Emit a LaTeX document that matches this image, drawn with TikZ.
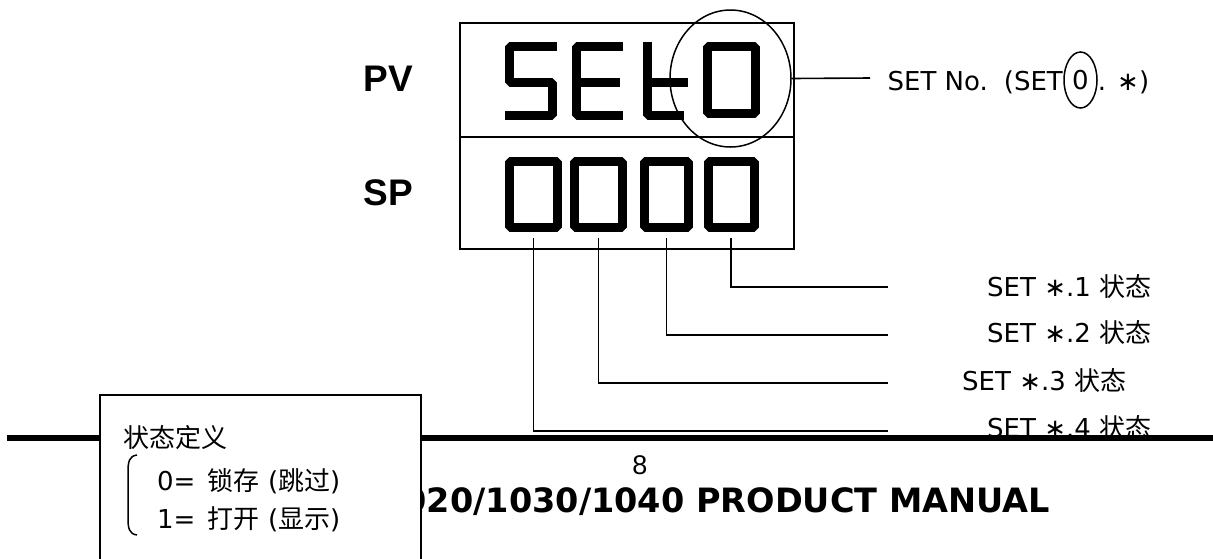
\documentclass[tikz,border=0pt]{standalone}
\usepackage{fontspec}
\setmainfont{DejaVu Sans}
\newfontfamily\cjk{Noto Sans CJK SC}
\newfontfamily\arialf{Liberation Sans}
\usetikzlibrary{shapes.geometric,positioning}
\tikzset{
  seg/.style={line width=9pt,line join=bevel},
  zero/.style={draw,line width=9pt,line join=bevel,inner sep=0,minimum height=66pt},
  lab/.style={inner sep=0,font=\fontsize{26}{30}\selectfont},
  big/.style={inner sep=0,font=\arialf\bfseries\fontsize{37}{40}\selectfont},
  wire/.style={line width=1.6pt},
}
\begin{document}
\begin{tikzpicture}[x=1pt,y=-1pt]
  \useasboundingbox (0,0) rectangle (1213,558);
  \draw[line width=2.2pt] (460,23) rectangle (794,249);
  \draw[line width=2.2pt] (460,137) -- (794,137);
  \node[big,anchor=east] (pv) at (413,79) {PV};
  \node[big,anchor=east] (sp) at (413,193) {SP};
  \draw[seg] (557,46.5) -- (509.5,46.5) -- (509.5,82.5) -- (552.5,82.5) -- (552.5,115.5) -- (505,115.5);
  \draw[seg] (623,46.5) -- (576.5,46.5) -- (576.5,115.5) -- (623,115.5);
  \draw[seg] (576.5,82.5) -- (620,82.5);
  \draw[seg] (647.5,42) -- (647.5,115.5) -- (684,115.5);
  \draw[seg] (647.5,82.5) -- (688,82.5);
  \node[zero,minimum width=48pt,minimum height=67pt] (pv0) at (731.5,80) {};
  \foreach \n/\cx/\w in {1/533.5/48, 2/598.5/48, 3/666.5/44, 4/731/46}
    \node[zero,minimum width={\w pt}] (z\n) at (\cx,194.5) {};
  \node[draw,ellipse,line width=1.5pt,inner sep=0,minimum width=121pt,minimum height=137pt] (setc) at (730.5,78.5) {};
  \coordinate (setend) at (870,78);
  \draw[wire] (setc.east) -- (setend);
  \node[lab,anchor=base east] (setno) at (1063,90) {SET No.\hspace{5pt} (SET};
  \node[lab,draw,ellipse,line width=1.5pt,minimum width=33pt,minimum height=56pt] (set0) at (1080.5,80) {0};
  \node[lab,anchor=base west] (setrest) at (set0.east |- setno.base) {. ∗)};
  \foreach \k/\yy/\xx in {1/296/987, 2/342/987, 3/390/962, 4/437/987}
    \node[lab,anchor=base west] (l\k) at (\xx,\yy) {SET ∗.\k\ {\cjk 状态}};
  \foreach \z/\k/\yy in {4/1/287, 3/2/335, 2/3/383, 1/4/431} {
    \coordinate (e\k) at (888,\yy);
    \draw[wire,shorten <=6pt] (z\z.south) |- (e\k);
  }
  \node[inner sep=0,font=\arialf\fontsize{27}{30}\selectfont] (pg) at (640,465) {8};
  \node[inner sep=0,anchor=base east,font=\bfseries\fontsize{33.5}{37}\selectfont] (title) at (1050,512) {020/1030/1040 PRODUCT MANUAL};
  \draw[line width=6pt] (7,438) -- (1213,438);
  \draw[line width=2.5pt,fill=white] (100,395) rectangle (421,580);
  \node[lab,anchor=base west] (legt) at (123,447) {\cjk 状态定义};
  \node[lab,anchor=base west] (leg0) at (157,490) {0=\hspace{4pt} {\cjk 锁存} ({\cjk 跳过})};
  \node[lab,anchor=base west] (leg1) at (157,528) {1=\hspace{4pt} {\cjk 打开} ({\cjk 显示})};
  \draw[line width=1.5pt] (137,455) .. controls (129,456) and (128,462) .. (128,472) -- (128,518) .. controls (128,528) and (129,534) .. (137,535);
\end{tikzpicture}
\end{document}
